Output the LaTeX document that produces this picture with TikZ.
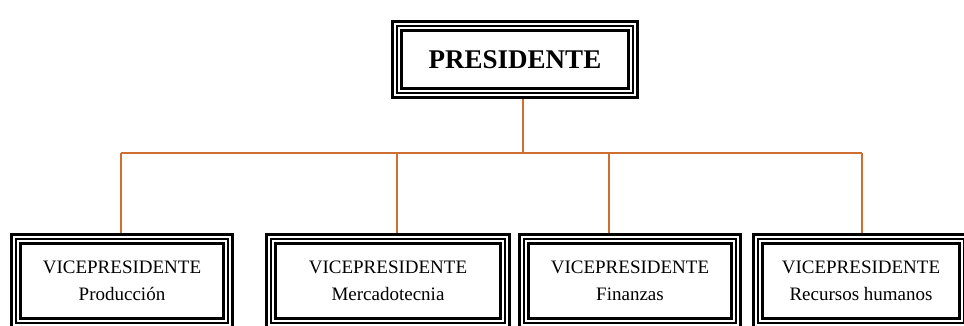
\documentclass[tikz,border=0pt]{standalone}
\usepackage{fontspec}
\setmainfont{Liberation Serif}
\usetikzlibrary{backgrounds}
\definecolor{conn}{RGB}{206,110,50}
\tikzset{
  frame/.style={shape=rectangle, fill=white, draw=black, line width=12pt,
    inner sep=0pt, align=center,
    postaction={draw=white, line width=5.5pt},
    postaction={draw=black, line width=2.4pt}},
  topbox/.style={frame, minimum width=236pt, minimum height=67pt,
    font=\fontsize{27}{30}\selectfont\bfseries},
  vpbox/.style={frame, minimum height=84pt,
    font=\fontsize{19}{27}\selectfont},
  link/.style={draw=conn, line width=2.4pt}
}
\begin{document}
\begin{tikzpicture}[x=1pt,y=-1pt]
\useasboundingbox (0,0) rectangle (964,326);
\node[topbox] (pres) at (515,59.5) {PRESIDENTE};
\node[vpbox, minimum width=212pt] (v1) at (122,281) {VICEPRESIDENTE\\Producción};
\node[vpbox, minimum width=234pt] (v2) at (388,281) {VICEPRESIDENTE\\Mercadotecnia};
\node[vpbox, minimum width=212pt] (v3) at (630,281) {VICEPRESIDENTE\\Finanzas};
\node[vpbox, minimum width=206pt] (v4) at (861,281) {VICEPRESIDENTE\\Recursos humanos};
\coordinate (bus) at (523,153);
\coordinate (b1) at (121,153);
\coordinate (b2) at (397,153);
\coordinate (b3) at (609,153);
\coordinate (b4) at (862,153);
\begin{scope}[on background layer]
\draw[link] (pres.south -| bus) -- (bus);
\draw[link] (b1) -- (b4);
\draw[link] (b1) -- (v1.north -| b1);
\draw[link] (b2) -- (v2.north -| b2);
\draw[link] (b3) -- (v3.north -| b3);
\draw[link] (b4) -- (v4.north -| b4);
\end{scope}
\end{tikzpicture}
\end{document}
